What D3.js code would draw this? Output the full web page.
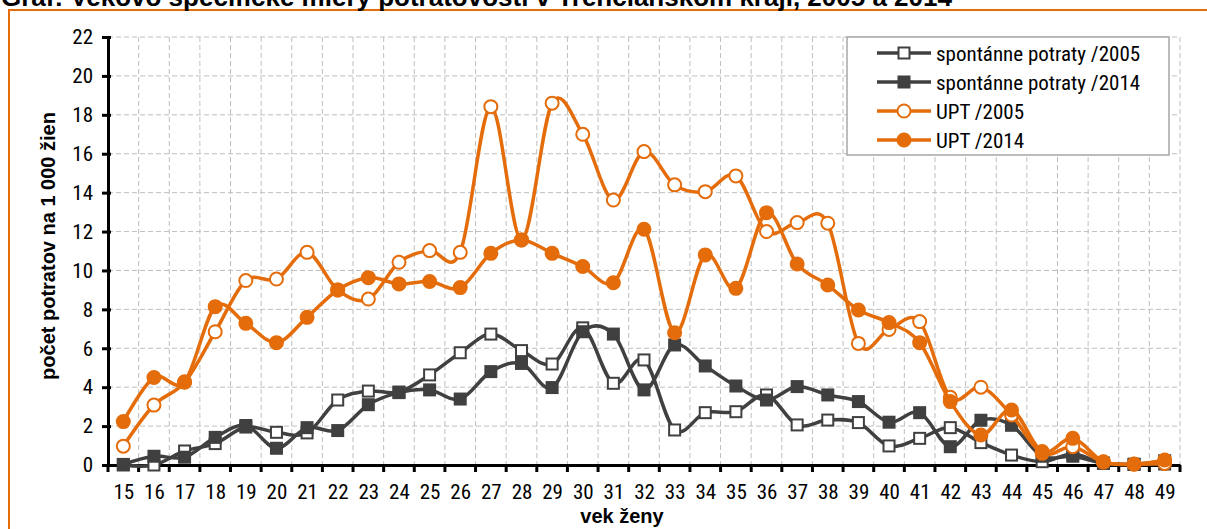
<!DOCTYPE html>
<html>
<head>
<meta charset="utf-8">
<script src="https://cdn.jsdelivr.net/npm/d3@7"></script>
<style>
  body { margin: 0; background: #fff; }
  svg { display: block; }
  text { font-family: "Liberation Sans Narrow", "Arial Narrow", "Roboto Condensed", "Liberation Sans", sans-serif; fill: #000; }
  .bold { font-family: "Liberation Sans", Arial, sans-serif; font-weight: bold; }
</style>
</head>
<body>
<div id="chart"></div>
<script>
// vek ženy
const ages = d3.range(15, 50);
const yTicks = [0, 2, 4, 6, 8, 10, 12, 14, 16, 18, 20, 22];

const spont2005 = [0.0, 0.0, 0.72, 1.1, 1.95, 1.68, 1.65, 3.34, 3.8, 3.75, 4.63, 5.77, 6.73, 5.88, 5.19, 7.05,
  4.2, 5.4, 1.8, 2.69, 2.74, 3.6, 2.06, 2.31, 2.18, 0.98, 1.37, 1.92, 1.15, 0.51, 0.17, 0.56, 0.08, 0.03, 0.05];
const spont2014 = [0.03, 0.45, 0.4, 1.42, 2.03, 0.86, 1.92, 1.77, 3.1, 3.72, 3.86, 3.39, 4.8, 5.22, 3.98, 6.85,
  6.73, 3.86, 6.17, 5.09, 4.06, 3.34, 4.03, 3.6, 3.26, 2.2, 2.69, 0.94, 2.3, 2.04, 0.45, 0.45, 0.1, 0.04, 0.22];
const upt2005 = [0.97, 3.08, 4.25, 6.85, 9.48, 9.56, 10.93, 9.0, 8.53, 10.42, 11.02, 10.93, 18.42, 11.57, 18.6, 17.0,
  13.62, 16.11, 14.4, 14.05, 14.86, 12.0, 12.46, 12.43, 6.25, 6.97, 7.37, 3.48, 4.0, 2.57, 0.6, 0.94, 0.15, 0.04, 0.08];
const upt2014 = [2.23, 4.5, 4.28, 8.14, 7.28, 6.29, 7.59, 9.0, 9.63, 9.31, 9.43, 9.12, 10.88, 11.57, 10.88, 10.2,
  9.37, 12.12, 6.8, 10.8, 9.08, 12.97, 10.33, 9.25, 7.97, 7.32, 6.29, 3.26, 1.54, 2.83, 0.69, 1.37, 0.17, 0.05, 0.26];

const gray = '#404040';
const orange = '#E46C0A';

const series = [
  { name: 'spontánne potraty /2005', values: spont2005, color: gray, shape: 'square', filled: false },
  { name: 'spontánne potraty /2014', values: spont2014, color: gray, shape: 'square', filled: true },
  { name: 'UPT /2005', values: upt2005, color: orange, shape: 'circle', filled: false },
  { name: 'UPT /2014', values: upt2014, color: orange, shape: 'circle', filled: true }
];

const W = 1207, H = 529;
const margin = { left: 108, right: 27, top: 37, bottom: 64 };

const svg = d3.select('#chart').append('svg')
  .attr('width', W)
  .attr('height', H);

// orange frame, cut by the picture edge
svg.append('rect')
  .attr('x', 9).attr('y', 10)
  .attr('width', W + 20).attr('height', H + 20)
  .attr('fill', 'none')
  .attr('stroke', orange)
  .attr('stroke-width', 2);

// title sits half outside the picture, as in the source
svg.append('text')
  .attr('class', 'bold')
  .attr('x', 1).attr('y', 6)
  .style('font-size', '26px')
  .text('Graf: Vekovo špecifické miery potratovosti v Trenčianskom kraji, 2005 a 2014');

const xScale = d3.scaleLinear([14.5, 49.5], [margin.left, W - margin.right]);
const yScale = d3.scaleLinear([0, 22], [H - margin.bottom, margin.top]);

const boundaries = d3.range(15.5, 50, 1);

// grid
const grid = svg.append('g')
  .attr('stroke', '#BFBFBF')
  .attr('stroke-width', 1)
  .attr('stroke-dasharray', '5,3');

grid.selectAll('line.h')
  .data(yTicks.filter(d => d > 0))
  .enter()
  .append('line')
    .attr('class', 'h')
    .attr('x1', xScale(14.5)).attr('x2', xScale(49.5))
    .attr('y1', d => yScale(d)).attr('y2', d => yScale(d));

grid.selectAll('line.v')
  .data(boundaries)
  .enter()
  .append('line')
    .attr('class', 'v')
    .attr('x1', d => xScale(d)).attr('x2', d => xScale(d))
    .attr('y1', yScale(22)).attr('y2', yScale(0));

// axes
const yAxis = svg.append('g')
  .attr('transform', `translate(${margin.left}, 0)`)
  .call(d3.axisLeft(yScale).tickValues(yTicks).tickSize(6).tickPadding(9).tickSizeOuter(0));
yAxis.select('.domain').attr('stroke', '#000').attr('stroke-width', 3);
yAxis.selectAll('.tick line')
  .attr('stroke', '#000').attr('stroke-width', 3)
  .attr('x1', 3);
yAxis.selectAll('.tick text')
  .style('font-size', '21px')
  .style('font-family', null);

const xAxis = svg.append('g')
  .attr('transform', `translate(0, ${yScale(0)})`)
  .call(d3.axisBottom(xScale).tickValues(ages).tickSize(0).tickPadding(19));
xAxis.select('.domain').attr('stroke', '#000').attr('stroke-width', 3);
xAxis.selectAll('.tick text')
  .style('font-size', '21px');

svg.append('g')
  .selectAll('line')
  .data([14.5].concat(boundaries))
  .enter()
  .append('line')
    .attr('x1', d => xScale(d)).attr('x2', d => xScale(d))
    .attr('y1', yScale(0)).attr('y2', yScale(0) + 7)
    .attr('stroke', '#000')
    .attr('stroke-width', 3);

svg.append('text')
  .attr('class', 'bold')
  .attr('x', 622)
  .attr('y', 523)
  .attr('text-anchor', 'middle')
  .style('font-size', '20px')
  .text('vek ženy');

svg.append('text')
  .attr('class', 'bold')
  .attr('transform', `translate(55, 246) rotate(-90)`)
  .attr('text-anchor', 'middle')
  .style('font-size', '20px')
  .text('počet potratov na 1 000 žien');

// lines + markers
const line = d3.line()
  .x((d, i) => xScale(ages[i]))
  .y(d => yScale(d))
  .curve(d3.curveCatmullRom.alpha(0));

function drawMarker (g, s, cx, cy) {
  if (s.shape === 'square') {
    g.append('rect')
      .attr('x', cx - 5.5).attr('y', cy - 5.5)
      .attr('width', 11).attr('height', 11)
      .attr('fill', s.filled ? s.color : '#fff')
      .attr('stroke', s.color)
      .attr('stroke-width', 2);
  } else {
    g.append('circle')
      .attr('cx', cx).attr('cy', cy)
      .attr('r', 6.5)
      .attr('fill', s.filled ? s.color : '#fff')
      .attr('stroke', s.color)
      .attr('stroke-width', 2);
  }
}

series.forEach(s => {
  const g = svg.append('g');
  g.append('path')
    .datum(s.values)
    .attr('d', line)
    .attr('fill', 'none')
    .attr('stroke', s.color)
    .attr('stroke-width', 3.5);
  s.values.forEach((v, i) => drawMarker(g, s, xScale(ages[i]), yScale(v)));
});

// legend
const legend = svg.append('g');
legend.append('rect')
  .attr('x', 847).attr('y', 37)
  .attr('width', 322).attr('height', 118)
  .attr('fill', '#fff')
  .attr('stroke', '#A6A6A6')
  .attr('stroke-width', 1.5);

series.forEach((s, i) => {
  const y = 53 + i * 29;
  const g = legend.append('g');
  g.append('line')
    .attr('x1', 877).attr('x2', 931)
    .attr('y1', y).attr('y2', y)
    .attr('stroke', s.color)
    .attr('stroke-width', 3.5);
  drawMarker(g, s, 904, y);
  g.append('text')
    .attr('x', 936).attr('y', y + 8)
    .style('font-size', '21px')
    .text(s.name);
});
</script>
</body>
</html>
